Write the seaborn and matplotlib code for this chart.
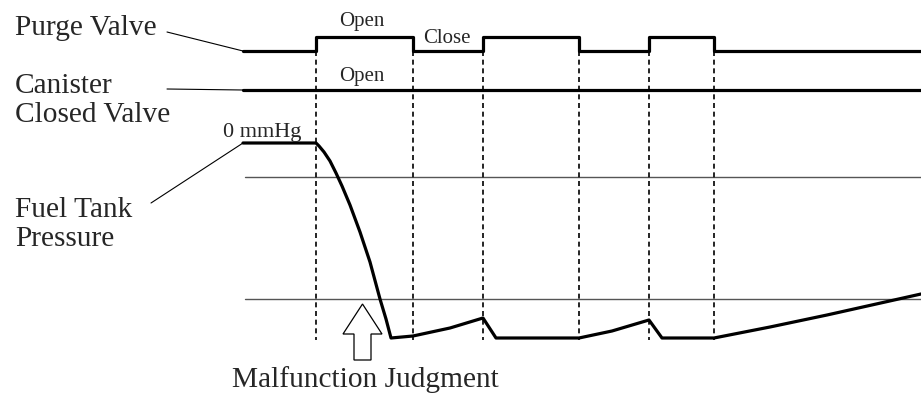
import numpy as np
import pandas as pd
import matplotlib
matplotlib.use("Agg")
import matplotlib.pyplot as plt
import seaborn as sns
from matplotlib.patches import FancyArrow

# diagram drawn in pixel-like units (x = time, y = level, y grows downward)
purge_t = [243, 316, 413, 483, 579, 649, 714, 921]
purge_state = [0, 1, 0, 1, 0, 1, 0, 0]          # 1 = open
purge_low, purge_high = 52, 38

canister_t = [243, 921]
canister_y = [91, 91]

pressure_t = [243, 316, 319, 324, 330, 336, 342, 350, 360, 370, 380, 386, 391,
              413, 450, 483, 496, 579, 612, 649, 662, 714, 770, 827, 921]
pressure_y = [144, 144, 147, 153, 162, 174, 187, 206, 233, 263, 300, 320, 339,
              337, 329, 319, 339, 339, 332, 321, 339, 339, 328, 316, 295]

threshold_y = [178, 300]
switch_t = [316, 413, 483, 579, 649, 714]

sns.set_theme(style="white")
plt.rcParams["font.family"] = ["Liberation Serif", "DejaVu Serif"]

fig = plt.figure(figsize=(9.21, 4.02), dpi=100)
ax = fig.add_axes([0, 0, 1, 1])

purge = pd.DataFrame({"t": purge_t,
                      "y": [purge_high if s else purge_low for s in purge_state]})
sns.lineplot(data=purge, x="t", y="y", ax=ax, color="black", lw=2.3,
             drawstyle="steps-post", estimator=None, sort=False)
sns.lineplot(x=canister_t, y=canister_y, ax=ax, color="black", lw=2.3,
             estimator=None, sort=False)
sns.lineplot(x=pressure_t, y=pressure_y, ax=ax, color="black", lw=2.3,
             estimator=None, sort=False)

# reference levels
for ty in threshold_y:
    ax.plot([245, 921], [ty, ty], color="#555555", lw=1.0, zorder=1)

# switching instants
ax.vlines(switch_t, purge_low, 341, colors="black", lw=1.2,
          linestyles=(0, (3.0, 2.2)), zorder=1)

# leader lines
ax.plot([167, 243], [33, 52], color="black", lw=0.8)
ax.plot([167, 243], [90, 91], color="black", lw=0.8)
ax.plot([151, 243], [204, 144], color="black", lw=0.8)

big = 21.2
small = 15
ax.text(15, 35, "Purge Valve", fontsize=big, va="baseline")
ax.text(15, 93, "Canister", fontsize=big, va="baseline")
ax.text(15, 122, "Closed Valve", fontsize=big, va="baseline")
ax.text(15, 217, "Fuel Tank", fontsize=big, va="baseline")
ax.text(15, 246, "Pressure", fontsize=big, va="baseline")
ax.text(232, 387, "Malfunction Judgment", fontsize=big, va="baseline")

ax.text(362, 26, "Open", fontsize=small, va="baseline", ha="center")
ax.text(447, 43, "Close", fontsize=small, va="baseline", ha="center")
ax.text(362, 81, "Open", fontsize=small, va="baseline", ha="center")
ax.text(223, 137, "0 mmHg", fontsize=16, va="baseline")

# hollow arrow
ax.add_patch(FancyArrow(362.5, 361, 0, -56, width=17, head_width=39,
                        head_length=30, length_includes_head=True,
                        fc="white", ec="black", lw=0.9, zorder=3))

ax.set_xlim(0, 921)
ax.set_ylim(402, 0)
ax.axis("off")

fig.savefig("out.png", dpi=100)
